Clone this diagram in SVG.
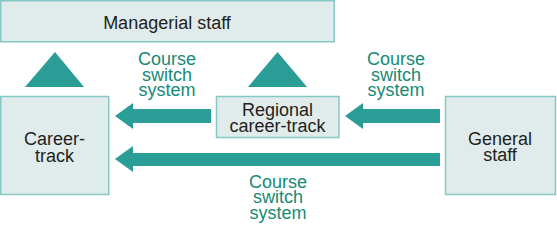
<svg xmlns="http://www.w3.org/2000/svg" width="557" height="225" viewBox="0 0 557 225">
<style>
.box{fill:#dfeceb;stroke:#86c8c3;stroke-width:1.5}
.t{font-family:"Liberation Sans",Arial,sans-serif;font-size:18px;fill:#231f20;text-anchor:middle}
.lbl{font-family:"Liberation Sans",Arial,sans-serif;font-size:18px;fill:#168a74;text-anchor:middle}
.arr{fill:#2a9d96}
</style>
<rect width="557" height="225" fill="#fff"/>
<g id="managerial"><rect class="box" x="0.75" y="0.75" width="333.5" height="41"/><text class="t" x="167" y="29">Managerial staff</text></g>
<g id="career"><rect class="box" x="0.75" y="96.5" width="108" height="98"/><text class="t"><tspan x="54.5" y="145">Career-</tspan><tspan x="54.5" y="162">track</tspan></text></g>
<g id="regional"><rect class="box" x="216.5" y="96.5" width="122.5" height="41"/><text class="t"><tspan x="277.5" y="116">Regional</tspan><tspan x="277.5" y="132">career-track</tspan></text></g>
<g id="general"><rect class="box" x="445.5" y="96.5" width="110" height="98"/><text class="t"><tspan x="500" y="145">General</tspan><tspan x="500" y="161">staff</tspan></text></g>
<g id="connectors">
<polygon class="arr" points="25,87 55,52 84,87"/>
<polygon class="arr" points="248,87 277.5,52 307,87"/>
<polygon class="arr" points="211,109 133,109 133,103 115,116 133,129 133,123 211,123"/>
<polygon class="arr" points="440,109 363,109 363,103 345,116 363,129 363,123 440,123"/>
<polygon class="arr" points="440,153 133,153 133,146 115,159 133,172 133,166 440,166"/>
<text class="lbl"><tspan x="167" y="65">Course</tspan><tspan x="167" y="81">switch</tspan><tspan x="167" y="96">system</tspan></text>
<text class="lbl"><tspan x="396" y="65">Course</tspan><tspan x="396" y="81">switch</tspan><tspan x="396" y="96">system</tspan></text>
<text class="lbl"><tspan x="278" y="188">Course</tspan><tspan x="278" y="203">switch</tspan><tspan x="278" y="219">system</tspan></text>
</g>
</svg>
